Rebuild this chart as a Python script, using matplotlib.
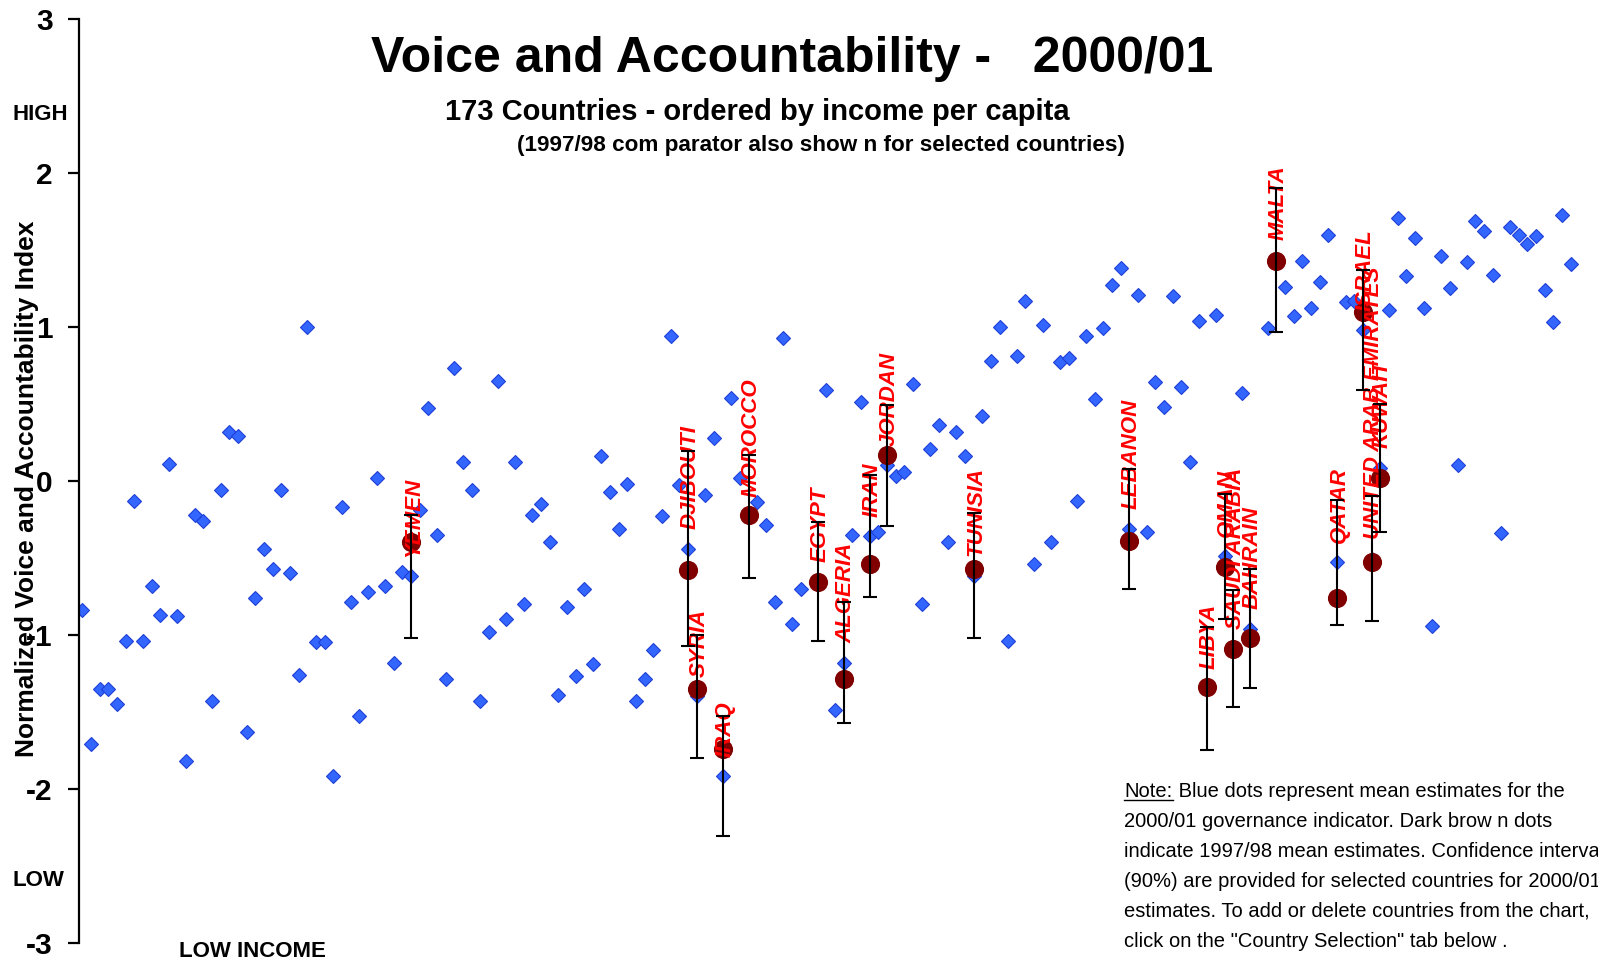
import numpy as np
import matplotlib
matplotlib.use("Agg")
import matplotlib.pyplot as plt
from matplotlib.lines import Line2D

plt.rcParams['font.family'] = ['Liberation Sans', 'DejaVu Sans']

nan = np.nan
# 2000/01 Voice and Accountability estimates, 173 countries ordered by income per capita
va_2000 = [
    -0.84, -1.71, -1.35, -1.35, -1.45, -1.04, -0.13, -1.04, -0.68, -0.87,
    0.11, -0.88, -1.82, -0.22, -0.26, -1.43, -0.06, 0.32, 0.29, -1.63,
    -0.76, -0.44, -0.57, -0.06, -0.60, -1.26, 1.00, -1.05, -1.05, -1.92,
    -0.17, -0.79, -1.53, -0.72, 0.02, -0.68, -1.18, -0.59, -0.62, -0.19,
    0.47, -0.35, -1.29, 0.73, 0.12, -0.06, -1.43, -0.98, 0.65, -0.90,
    0.12, -0.80, -0.22, -0.15, -0.40, -1.39, -0.82, -1.27, -0.70, -1.19,
    0.16, -0.07, -0.31, -0.02, -1.43, -1.29, -1.10, -0.23, 0.94, -0.03,
    -0.44, -1.40, -0.09, 0.28, -1.92, 0.54, 0.02, -0.23, -0.14, -0.29,
    -0.79, 0.93, -0.93, -0.70, nan, -0.655, 0.59, -1.49, -1.18, -0.35,
    0.51, -0.36, -0.33, 0.10, 0.03, 0.06, 0.63, -0.80, 0.21, 0.36,
    -0.40, 0.32, 0.16, -0.615, 0.42, 0.78, 1.00, -1.04, 0.81, 1.17,
    -0.54, 1.01, -0.40, 0.77, 0.80, -0.13, 0.94, 0.53, 0.99, 1.27,
    1.38, -0.31, 1.21, -0.33, 0.64, 0.48, 1.20, 0.61, 0.12, 1.04,
    -1.35, 1.08, -0.49, -1.09, 0.57, -0.96, nan, 0.99, 1.435, 1.26,
    1.07, 1.43, 1.12, 1.29, 1.60, -0.53, 1.16, 1.17, 0.98, -0.505,
    0.085, 1.11, 1.71, 1.33, 1.58, 1.12, -0.94, 1.46, 1.25, 0.10,
    1.42, 1.69, 1.62, 1.34, -0.34, 1.65, 1.60, 1.54, 1.59, 1.24,
    1.03, 1.73, 1.41,
]
rank = np.arange(1, len(va_2000) + 1)

# selected countries
sel_names = ["YEMEN", "DJIBOUTI", "SYRIA", "IRAQ", "MOROCCO", "EGYPT", "ALGERIA",
             "IRAN", "JORDAN", "TUNISIA", "LEBANON", "LIBYA", "OMAN", "SAUDI ARABIA",
             "BAHRAIN", "MALTA", "QATAR", "ISRAEL", "UNITED ARAB EMIRATES", "KUWAIT"]
sel_rank = [39, 71, 72, 75, 78, 86, 89, 92, 94, 104, 122, 131, 133, 134, 136, 139,
            146, 149, 150, 151]
sel_1997 = [-0.40, -0.58, -1.35, -1.74, -0.22, -0.655, -1.29, -0.54, 0.17, -0.57,
            -0.39, -1.34, -0.56, -1.09, -1.02, 1.43, -0.76, 1.10, -0.53, 0.016]
sel_ci90 = [0.40, 0.635, 0.40, 0.39, 0.40, 0.385, 0.395, 0.395, 0.395, 0.405,
            0.39, 0.40, 0.405, 0.38, 0.385, 0.465, 0.405, 0.39, 0.405, 0.415]

ytick_vals = [-3, -2, -1, 0, 1, 2, 3]
ytick_labels = ["-3", "-2", "-1", "0", "1", "2", "3"]

title = "Voice and Accountability -   2000/01"
subtitle = "173 Countries - ordered by income per capita"
subsubtitle = "(1997/98 com parator also show n for selected countries)"
ylabel = "Normalized Voice and Accountability Index"
note_lines = [
    " Blue dots represent mean estimates for the",
    "2000/01 governance indicator. Dark brow n dots",
    "indicate 1997/98 mean estimates. Confidence intervals",
    "(90%) are provided for selected countries for 2000/01",
    "estimates. To add or delete countries from the chart,",
    "click on the \"Country Selection\" tab below .",
]

W, H = 1598, 960
fig = plt.figure(figsize=(W / 100, H / 100), dpi=100)
fx = lambda px: px / W
fy = lambda py: 1 - py / H

ax = fig.add_axes([fx(79), fy(942.7), (W - 79) / W, (942.7 - 19) / H])
ax.set_xlim(0.62, 176.16)
ax.set_ylim(-3, 3)
for s in ["top", "right", "bottom"]:
    ax.spines[s].set_visible(False)
ax.spines["left"].set_linewidth(1.6)
ax.set_xticks([])
ax.set_yticks(ytick_vals, labels=ytick_labels, fontweight="bold")
ax.tick_params(axis="y", direction="out", length=8, width=1.6, pad=11, labelsize=21.5)
ax.patch.set_alpha(0)

va_arr = np.array(va_2000, dtype=float)
ax.plot(rank, va_arr, linestyle="none", marker="D", ms=7, mfc="#3366ff",
        mec="#1f3fd6", mew=0.8, zorder=2)

sel_2000 = [va_arr[r - 1] for r in sel_rank]
ax.plot(sel_rank, sel_1997, linestyle="none", marker="o", ms=13.8,
        mfc="#800000", mec="none", zorder=3)

for name, r, v in zip(sel_names, sel_rank, sel_2000):
    ax.annotate(name, (r, v), xytext=(1.5, 14), textcoords="offset points",
                rotation=90, ha="center", va="bottom", color="#ff0000",
                fontsize=16, fontweight="bold", fontstyle="italic", zorder=4)

ax.errorbar(sel_rank, sel_2000, yerr=sel_ci90, fmt="none", ecolor="black",
            elinewidth=1.5, capsize=5, capthick=1.5, zorder=5)

# texts
fig.text(fx(792), fy(71.7), title, ha="center", va="baseline", fontsize=36,
         fontweight="bold")
fig.text(fx(757), fy(120), subtitle, ha="center", va="baseline", fontsize=21,
         fontweight="bold")
fig.text(fx(820.5), fy(151), subsubtitle, ha="center", va="baseline", fontsize=16.2,
         fontweight="bold")
fig.text(fx(12.3), fy(120), "HIGH", ha="left", va="baseline", fontsize=16,
         fontweight="bold")
fig.text(fx(12.3), fy(886), "LOW", ha="left", va="baseline", fontsize=16,
         fontweight="bold")
fig.text(fx(27), fy(489), ylabel, rotation=90, ha="center", va="center",
         fontsize=19, fontweight="bold")
fig.text(fx(252.6), fy(956.7), "LOW INCOME", ha="center", va="baseline",
         fontsize=16, fontweight="bold")

# note block
renderer = fig.canvas.get_renderer()
x0 = 1124.3
note_fs = 14.5
baselines = [797.3, 827.3, 856.7, 886.7, 916.7, 946.7]
tn = fig.text(fx(x0), fy(baselines[0]), "Note:", ha="left", va="baseline", fontsize=note_fs)
bb = tn.get_window_extent(renderer)
fig.add_artist(Line2D([bb.x0 / W, bb.x1 / W], [fy(baselines[0] + 3)] * 2,
                      color="black", lw=1.0, transform=fig.transFigure))
for i, line in enumerate(note_lines):
    xs = bb.x1 if i == 0 else fx(x0) * W
    t = fig.text(xs / W, fy(baselines[i]), line, ha="left", va="baseline",
                 fontsize=note_fs, clip_on=True)
    t.set_clip_box(fig.bbox)

fig.savefig("out.png", dpi=100)
